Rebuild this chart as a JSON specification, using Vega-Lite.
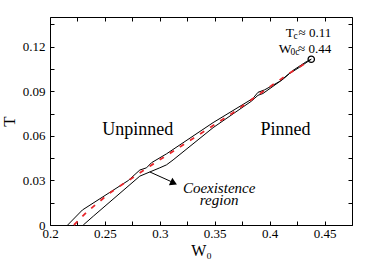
{
  "$schema": "https://vega.github.io/schema/vega-lite/v6.json",
  "width": 302,
  "height": 208,
  "autosize": {"type": "none"},
  "padding": {"left": 50, "top": 17, "right": 22, "bottom": 37},
  "background": "white",
  "config": {
    "view": {"stroke": "#000", "strokeWidth": 1},
    "font": "Liberation Serif",
    "axis": {
      "grid": false,
      "domain": false,
      "tickColor": "#000",
      "tickSize": -4,
      "tickWidth": 1,
      "labelFont": "Liberation Serif",
      "labelFontSize": 13,
      "labelColor": "#000",
      "titleFont": "Liberation Serif",
      "titleFontWeight": "normal",
      "titleColor": "#000",
      "labelOverlap": false,
      "labelFlush": false,
      "labelBound": false
    }
  },
  "resolve": {"axis": {"x": "independent", "y": "independent"}},
  "layer": [
    {
      "data": {"values": [
        {"s": "upper", "o": 1, "w": 0.2161, "t": 0},
        {"s": "upper", "o": 2, "w": 0.2295, "t": 0.0101},
        {"s": "upper", "o": 3, "w": 0.2712, "t": 0.0299},
        {"s": "upper", "o": 4, "w": 0.2818, "t": 0.0370},
        {"s": "upper", "o": 5, "w": 0.2879, "t": 0.0385},
        {"s": "upper", "o": 6, "w": 0.2924, "t": 0.0419},
        {"s": "upper", "o": 7, "w": 0.3061, "t": 0.0479},
        {"s": "upper", "o": 8, "w": 0.3485, "t": 0.0689},
        {"s": "upper", "o": 9, "w": 0.3848, "t": 0.0852},
        {"s": "upper", "o": 10, "w": 0.3894, "t": 0.0893},
        {"s": "upper", "o": 11, "w": 0.3955, "t": 0.0910},
        {"s": "upper", "o": 12, "w": 0.4091, "t": 0.0966},
        {"s": "upper", "o": 13, "w": 0.4212, "t": 0.1040},
        {"s": "upper", "o": 14, "w": 0.4333, "t": 0.1099},
        {"s": "upper", "o": 15, "w": 0.4379, "t": 0.1116},
        {"s": "lower", "o": 1, "w": 0.2303, "t": 0},
        {"s": "lower", "o": 2, "w": 0.2394, "t": 0.0059},
        {"s": "lower", "o": 3, "w": 0.2818, "t": 0.0329},
        {"s": "lower", "o": 4, "w": 0.3000, "t": 0.0385},
        {"s": "lower", "o": 5, "w": 0.3061, "t": 0.0405},
        {"s": "lower", "o": 6, "w": 0.3121, "t": 0.0438},
        {"s": "lower", "o": 7, "w": 0.3485, "t": 0.0655},
        {"s": "lower", "o": 8, "w": 0.3833, "t": 0.0833},
        {"s": "lower", "o": 9, "w": 0.3894, "t": 0.0873},
        {"s": "lower", "o": 10, "w": 0.3939, "t": 0.0885},
        {"s": "lower", "o": 11, "w": 0.4121, "t": 0.0981},
        {"s": "lower", "o": 12, "w": 0.4182, "t": 0.1020},
        {"s": "lower", "o": 13, "w": 0.4273, "t": 0.1062},
        {"s": "lower", "o": 14, "w": 0.4379, "t": 0.1116}
      ]},
      "mark": {"type": "line", "color": "#000", "strokeWidth": 1},
      "encoding": {
        "x": {"field": "w", "type": "quantitative",
          "scale": {"domain": [0.2, 0.475], "nice": false, "zero": false},
          "axis": {"orient": "bottom", "title": "W₀", "titleFontSize": 16, "titlePadding": 2,
            "labelFont": "Liberation Serif", "titleFont": "Liberation Serif",
            "values": [0.2, 0.225, 0.25, 0.275, 0.3, 0.325, 0.35, 0.375, 0.4, 0.425, 0.45, 0.475],
            "format": ".3~f", "labelPadding": 6,
            "labelExpr": "round(datum.value*1000) % 50 == 0 ? datum.label : ''"}},
        "y": {"field": "t", "type": "quantitative",
          "scale": {"domain": [0, 0.14], "nice": false, "zero": false},
          "axis": {"orient": "left", "title": "T", "titleFontSize": 17, "titlePadding": 4,
            "labelFont": "Liberation Serif", "titleFont": "Liberation Serif",
            "values": [0, 0.015, 0.03, 0.045, 0.06, 0.075, 0.09, 0.105, 0.12, 0.135],
            "format": ".2~f", "labelPadding": 9,
            "labelExpr": "round(datum.value*1000) % 30 == 0 ? datum.label : ''"}},
        "detail": {"field": "s"},
        "order": {"field": "o"}
      }
    },
    {
      "data": {"values": [
        {"o": 1, "w": 0.2218, "t": 0},
        {"o": 2, "w": 0.2339, "t": 0.0090},
        {"o": 3, "w": 0.2545, "t": 0.0216},
        {"o": 4, "w": 0.2909, "t": 0.0396},
        {"o": 5, "w": 0.3242, "t": 0.0554},
        {"o": 6, "w": 0.3667, "t": 0.0756},
        {"o": 7, "w": 0.3970, "t": 0.0914},
        {"o": 8, "w": 0.4212, "t": 0.1037},
        {"o": 9, "w": 0.4364, "t": 0.1105}
      ]},
      "mark": {"type": "line", "color": "#e8262b", "strokeWidth": 1.8, "strokeDash": [5, 7]},
      "encoding": {
        "x": {"field": "w", "type": "quantitative",
          "axis": {"orient": "top", "title": null, "labels": false,
            "values": [0.2, 0.225, 0.25, 0.275, 0.3, 0.325, 0.35, 0.375, 0.4, 0.425, 0.45, 0.475]}},
        "y": {"field": "t", "type": "quantitative",
          "axis": {"orient": "right", "title": null, "labels": false,
            "values": [0, 0.015, 0.03, 0.045, 0.06, 0.075, 0.09, 0.105, 0.12, 0.135]}},
        "order": {"field": "o"}
      }
    },
    {
      "data": {"values": [{"w": 0.4379, "t": 0.1116}]},
      "mark": {"type": "point", "shape": "circle", "filled": false, "color": "#000", "size": 40, "strokeWidth": 1.3, "opacity": 1},
      "encoding": {
        "x": {"field": "w", "type": "quantitative", "axis": null},
        "y": {"field": "t", "type": "quantitative", "axis": null}
      }
    },
    {
      "data": {"values": [{"w": 0.2909, "t": 0.0357, "w2": 0.3110, "t2": 0.0290}]},
      "mark": {"type": "rule", "color": "#000", "strokeWidth": 1},
      "encoding": {
        "x": {"field": "w", "type": "quantitative", "axis": null},
        "y": {"field": "t", "type": "quantitative", "axis": null},
        "x2": {"field": "w2"},
        "y2": {"field": "t2"}
      }
    },
    {
      "data": {"values": [{"w": 0.3127, "t": 0.0283}]},
      "mark": {"type": "point", "shape": "triangle-right", "filled": true, "color": "#000", "size": 65, "angle": 25, "opacity": 1},
      "encoding": {
        "x": {"field": "w", "type": "quantitative", "axis": null},
        "y": {"field": "t", "type": "quantitative", "axis": null}
      }
    },
    {
      "data": {"values": [
        {"label": "Unpinned", "w": 0.28, "t": 0.0606},
        {"label": "Pinned", "w": 0.4144, "t": 0.0606}
      ]},
      "mark": {"type": "text", "font": "Liberation Serif", "fontSize": 18, "align": "center", "baseline": "alphabetic", "color": "#000"},
      "encoding": {
        "x": {"field": "w", "type": "quantitative", "axis": null},
        "y": {"field": "t", "type": "quantitative", "axis": null},
        "text": {"field": "label"}
      }
    },
    {
      "data": {"values": [
        {"label": "Coexistence", "w": 0.354, "t": 0.0216},
        {"label": "region", "w": 0.354, "t": 0.0136}
      ]},
      "mark": {"type": "text", "font": "Liberation Serif", "fontSize": 15, "fontStyle": "italic", "align": "center", "baseline": "alphabetic", "color": "#000"},
      "encoding": {
        "x": {"field": "w", "type": "quantitative", "axis": null},
        "y": {"field": "t", "type": "quantitative", "axis": null},
        "text": {"field": "label"}
      }
    },
    {
      "data": {"values": [
        {"label": "T", "w": 0.4146, "t": 0.1263},
        {"label": "W", "w": 0.4082, "t": 0.1160}
      ]},
      "mark": {"type": "text", "font": "Liberation Serif", "fontSize": 13.5, "align": "left", "baseline": "alphabetic", "color": "#000"},
      "encoding": {
        "x": {"field": "w", "type": "quantitative", "axis": null},
        "y": {"field": "t", "type": "quantitative", "axis": null},
        "text": {"field": "label"}
      }
    },
    {
      "data": {"values": [
        {"label": "c", "w": 0.4218, "t": 0.1250},
        {"label": "0c", "w": 0.4190, "t": 0.1146}
      ]},
      "mark": {"type": "text", "font": "Liberation Serif", "fontSize": 9.5, "align": "left", "baseline": "alphabetic", "color": "#000"},
      "encoding": {
        "x": {"field": "w", "type": "quantitative", "axis": null},
        "y": {"field": "t", "type": "quantitative", "axis": null},
        "text": {"field": "label"}
      }
    },
    {
      "data": {"values": [
        {"label": "≈ 0.11", "w": 0.4561, "t": 0.1263},
        {"label": "≈ 0.44", "w": 0.4561, "t": 0.1160}
      ]},
      "mark": {"type": "text", "font": "Liberation Serif", "fontSize": 13, "align": "right", "baseline": "alphabetic", "color": "#000"},
      "encoding": {
        "x": {"field": "w", "type": "quantitative", "axis": null},
        "y": {"field": "t", "type": "quantitative", "axis": null},
        "text": {"field": "label"}
      }
    }
  ]
}
